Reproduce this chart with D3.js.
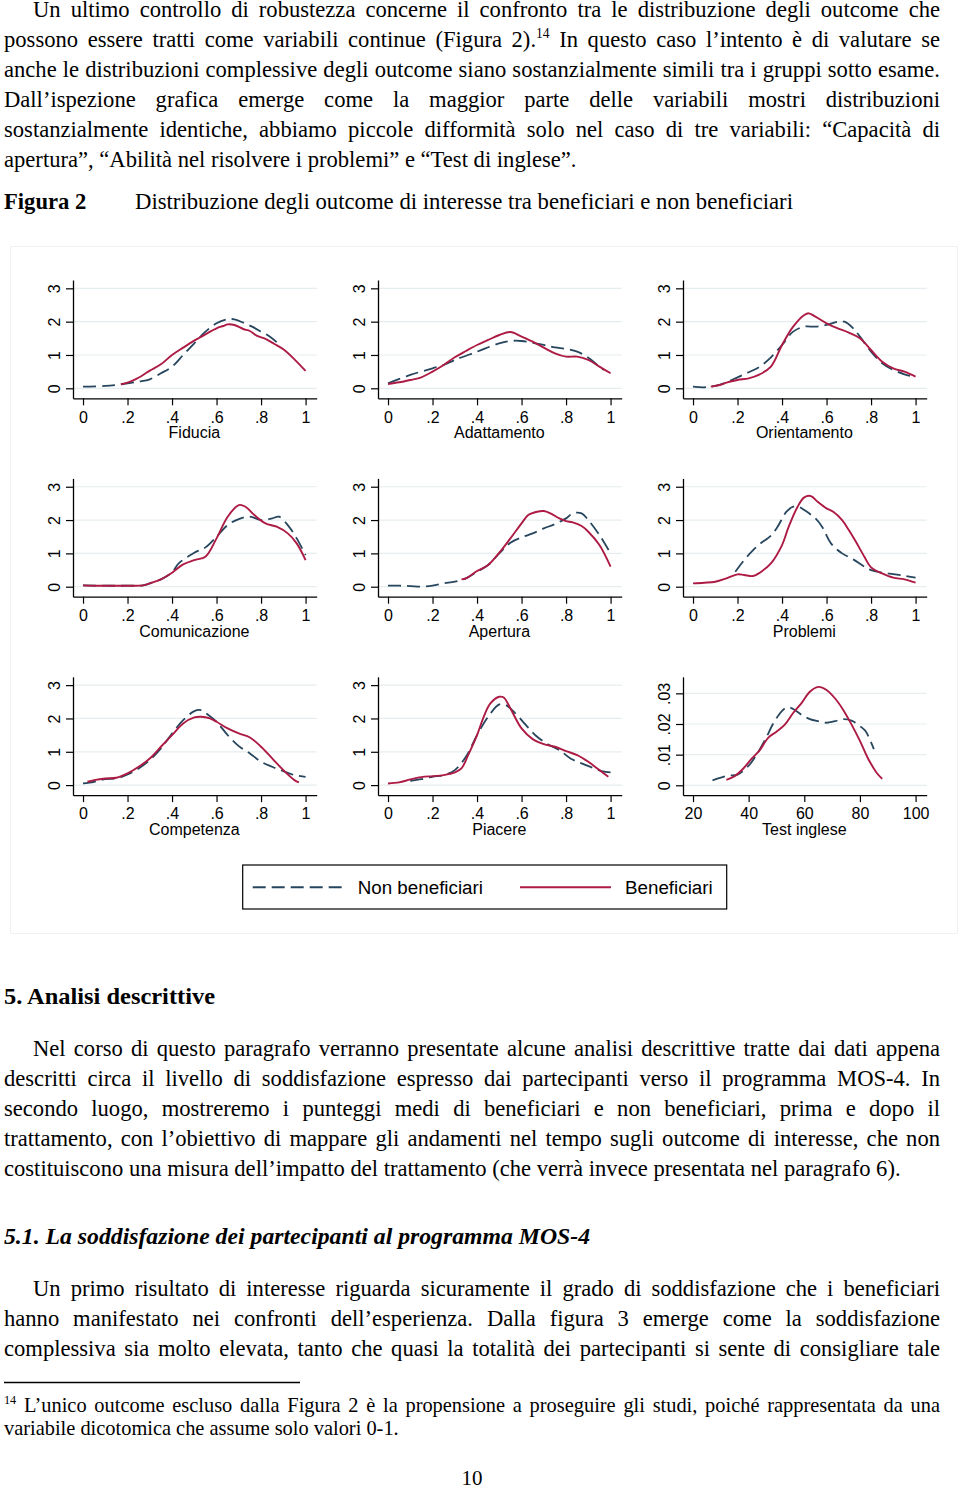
<!DOCTYPE html>
<html><head><meta charset="utf-8">
<script src="https://cdn.jsdelivr.net/npm/d3@7"></script>
<style>
html,body{margin:0;padding:0;background:#fff;}
svg{display:block;}
</style></head>
<body>
<svg id="page" width="960" height="1487"></svg>
<script>
// ---------------- DATA ----------------
const panelTitles = ["Fiducia","Adattamento","Orientamento","Comunicazione","Apertura","Problemi","Competenza","Piacere","Test inglese"];
const xTicks01 = [0,.2,.4,.6,.8,1];
const xTickLabels01 = ["0",".2",".4",".6",".8","1"];
const xTicksTest = [20,40,60,80,100];
const xTickLabelsTest = ["20","40","60","80","100"];
const yTicks = [0,1,2,3];
const yTickLabels = ["0","1","2","3"];
const yTicksTest = [0,.01,.02,.03];
const yTickLabelsTest = ["0",".01",".02",".03"];
const legendLabels = ["Non beneficiari","Beneficiari"];

// Non beneficiari (dashed) and Beneficiari (solid) densities: [x, density]
const fiduciaNon = [[0,.05],[.1,.07],[.17,.12],[.25,.2],[.3,.27],[.35,.45],[.4,.65],[.45,1.0],[.5,1.35],[.55,1.7],[.6,1.95],[.65,2.07],[.68,2.07],[.72,1.97],[.76,1.85],[.8,1.7],[.84,1.55],[.88,1.33]];
const fiduciaBen = [[.17,.12],[.2,.17],[.23,.25],[.27,.4],[.3,.53],[.35,.72],[.4,1.0],[.45,1.22],[.5,1.43],[.55,1.62],[.6,1.8],[.63,1.87],[.65,1.92],[.68,1.9],[.72,1.78],[.75,1.72],[.78,1.58],[.82,1.48],[.86,1.33],[.9,1.17],[.95,.87],[1,.52]];
const adattNon = [[0,.15],[.1,.4],[.2,.6],[.25,.7],[.3,.85],[.4,1.1],[.5,1.35],[.55,1.42],[.6,1.42],[.7,1.3],[.75,1.23],[.8,1.18],[.85,1.1],[.9,.92],[.95,.65],[.97,.55]];
const adattBen = [[0,.13],[.05,.18],[.1,.25],[.15,.33],[.2,.5],[.25,.7],[.3,.93],[.35,1.12],[.4,1.3],[.45,1.45],[.5,1.6],[.55,1.69],[.6,1.55],[.65,1.4],[.7,1.22],[.75,1.05],[.8,.95],[.85,.95],[.9,.85],[.95,.65],[1,.45]];
const orientNon = [[0,.05],[.05,.03],[.1,.07],[.15,.18],[.2,.33],[.25,.48],[.3,.65],[.35,.93],[.4,1.3],[.45,1.7],[.5,1.85],[.55,1.85],[.6,1.9],[.65,2.0],[.68,2.0],[.72,1.8],[.75,1.55],[.8,1.1],[.85,.75],[.9,.55],[.95,.42],[1,.33]];
const orientBen = [[.08,.05],[.12,.1],[.15,.17],[.2,.25],[.25,.3],[.3,.42],[.35,.65],[.4,1.3],[.45,1.85],[.5,2.2],[.52,2.25],[.55,2.15],[.6,1.95],[.65,1.8],[.7,1.67],[.75,1.5],[.8,1.15],[.85,.8],[.9,.6],[.95,.5],[1,.35]];
const comunNon = [[0,.04],[.1,.03],[.2,.03],[.27,.04],[.3,.1],[.35,.22],[.4,.43],[.43,.7],[.5,1.02],[.55,1.18],[.6,1.5],[.65,1.85],[.7,2.03],[.75,2.1],[.8,2.0],[.85,2.05],[.88,2.1],[.92,1.85],[.96,1.45],[1,.95]];
const comunBen = [[0,.04],[.05,.03],[.1,.03],[.15,.03],[.2,.03],[.27,.04],[.3,.1],[.35,.22],[.4,.42],[.45,.67],[.5,.8],[.55,.9],[.6,1.45],[.65,2.1],[.7,2.45],[.73,2.4],[.77,2.15],[.82,1.9],[.87,1.8],[.92,1.6],[.96,1.3],[1,.8]];
const apertNon = [[0,.03],[.05,.03],[.1,.02],[.15,0],[.2,.03],[.25,.1],[.3,.15],[.35,.25],[.4,.45],[.45,.65],[.5,1.0],[.55,1.32],[.6,1.48],[.65,1.6],[.7,1.75],[.75,1.88],[.8,2.05],[.83,2.2],[.87,2.2],[.9,2.0],[.95,1.55],[1,1.0]];
const apertBen = [[.33,.22],[.35,.25],[.4,.47],[.45,.65],[.5,1.02],[.55,1.45],[.6,1.9],[.63,2.15],[.67,2.25],[.7,2.27],[.73,2.2],[.77,2.05],[.8,1.97],[.83,1.93],[.87,1.82],[.9,1.65],[.95,1.25],[1,.6]];
const problNon = [[.19,.45],[.23,.8],[.27,1.1],[.3,1.28],[.35,1.53],[.38,1.8],[.42,2.25],[.45,2.4],[.48,2.38],[.5,2.3],[.55,2.05],[.58,1.8],[.62,1.3],[.67,1.0],[.72,.82],[.77,.6],[.8,.5],[.85,.42],[.9,.38],[.95,.33],[1,.27]];
const problBen = [[0,.1],[.05,.12],[.1,.15],[.15,.25],[.2,.37],[.23,.35],[.27,.32],[.3,.42],[.35,.7],[.4,1.25],[.43,1.8],[.47,2.4],[.5,2.68],[.53,2.72],[.56,2.55],[.6,2.35],[.63,2.25],[.67,2.0],[.7,1.7],[.73,1.37],[.77,.9],[.8,.58],[.85,.4],[.9,.27],[.95,.22],[1,.12]];
const compNon = [[0,.05],[.05,.1],[.1,.18],[.15,.2],[.2,.32],[.25,.5],[.3,.75],[.35,1.1],[.4,1.55],[.45,1.95],[.5,2.22],[.53,2.25],[.56,2.12],[.6,1.9],[.65,1.5],[.7,1.17],[.75,.95],[.8,.7],[.85,.55],[.9,.42],[.95,.3],[1,.25]];
const compBen = [[.02,.1],[.05,.15],[.1,.2],[.15,.22],[.2,.35],[.25,.55],[.3,.8],[.35,1.15],[.4,1.5],[.45,1.85],[.5,2.03],[.53,2.05],[.57,2.0],[.6,1.9],[.65,1.7],[.7,1.55],[.75,1.43],[.8,1.15],[.85,.8],[.9,.45],[.95,.15],[.97,.08]];
const piacNon = [[.1,.13],[.15,.18],[.2,.25],[.25,.3],[.3,.45],[.35,.85],[.4,1.5],[.45,2.05],[.5,2.42],[.53,2.4],[.57,2.17],[.62,1.8],[.67,1.45],[.72,1.22],[.77,1.05],[.82,.8],[.87,.65],[.92,.52],[.96,.42],[1,.38]];
const piacBen = [[0,.05],[.05,.08],[.1,.17],[.15,.24],[.2,.27],[.25,.3],[.3,.38],[.33,.5],[.36,.9],[.4,1.5],[.43,2.05],[.46,2.45],[.5,2.65],[.52,2.63],[.55,2.3],[.6,1.7],[.65,1.38],[.7,1.23],[.75,1.15],[.8,1.02],[.85,.9],[.9,.7],[.95,.45],[.99,.25]];
const testNon = [[27,.0016],[30,.0025],[33,.0032],[36,.0035],[40,.0064],[43,.0102],[46,.015],[49,.0204],[52,.0243],[54,.0255],[56,.0249],[59,.023],[62,.0216],[65,.0209],[68,.0204],[71,.0209],[74,.0216],[77,.0211],[80,.0193],[82,.0177],[85,.0118]];
const testBen = [[32,.0018],[35,.003],[38,.0054],[41,.0086],[44,.0115],[47,.0155],[50,.0175],[53,.0198],[56,.0236],[59,.0268],[62,.0305],[65,.0321],[68,.0311],[71,.0284],[74,.0246],[77,.0198],[80,.0145],[83,.0086],[86,.0041],[88,.0021]];

const nonSeries = [fiduciaNon, adattNon, orientNon, comunNon, apertNon, problNon, compNon, piacNon, testNon];
const benSeries = [fiduciaBen, adattBen, orientBen, comunBen, apertBen, problBen, compBen, piacBen, testBen];

// ---------------- TEXT ----------------
const para1 = [
 ["Un ultimo controllo di robustezza concerne il confronto tra le distribuzione degli outcome che", 33, true],
 ["possono essere tratti come variabili continue (Figura 2).|14| In questo caso l\u2019intento è di valutare se", 4, true],
 ["anche le distribuzioni complessive degli outcome siano sostanzialmente simili tra i gruppi sotto esame.", 4, true],
 ["Dall\u2019ispezione grafica emerge come la maggior parte delle variabili mostri distribuzioni", 4, true],
 ["sostanzialmente identiche, abbiamo piccole difformità solo nel caso di tre variabili: \u201cCapacità di", 4, true],
 ["apertura\u201d, \u201cAbilità nel risolvere i problemi\u201d e \u201cTest di inglese\u201d.", 4, false]
];
const para2 = [
 ["Nel corso di questo paragrafo verranno presentate alcune analisi descrittive tratte dai dati appena", 33, true],
 ["descritti circa il livello di soddisfazione espresso dai partecipanti verso il programma MOS-4. In", 4, true],
 ["secondo luogo, mostreremo i punteggi medi di beneficiari e non beneficiari, prima e dopo il", 4, true],
 ["trattamento, con l\u2019obiettivo di mappare gli andamenti nel tempo sugli outcome di interesse, che non", 4, true],
 ["costituiscono una misura dell\u2019impatto del trattamento (che verrà invece presentata nel paragrafo 6).", 4, false]
];
const para3 = [
 ["Un primo risultato di interesse riguarda sicuramente il grado di soddisfazione che i beneficiari", 33, true],
 ["hanno manifestato nei confronti dell\u2019esperienza. Dalla figura 3 emerge come la soddisfazione", 4, true],
 ["complessiva sia molto elevata, tanto che quasi la totalità dei partecipanti si sente di consigliare tale", 4, true]
];
const foot = [
 ["|14| L\u2019unico outcome escluso dalla Figura 2 è la propensione a proseguire gli studi, poiché rappresentata da una", 4, true],
 ["variabile dicotomica che assume solo valori 0-1.", 4, false]
];

// ---------------- DRAW ----------------
const svg = d3.select("#page");
const SERIF = "'Liberation Serif','Times New Roman',serif";
const SANS = "'Liberation Sans',Arial,sans-serif";
const RIGHT = 940;
const BODY = 22.6, FOOT = 20.4;

function drawLine(g, line, x0, y, size, justify){
  const tokens = line.split(" ");
  const nodes = [];
  tokens.forEach(tok => {
    const t = g.append("text").attr("y", y).attr("font-family", SERIF).attr("font-size", size).attr("fill","#000");
    if (tok.startsWith("|")) {
      const parts = tok.split("|");
      t.append("tspan").attr("font-size", size*0.6).attr("dy", -size*0.38).text(parts[1]);
      if (parts[2]) t.append("tspan").attr("dy", size*0.38).text(parts[2]);
    } else if (tok.indexOf("|")>=0) {
      const parts = tok.split("|");
      t.append("tspan").text(parts[0]);
      t.append("tspan").attr("font-size", size*0.6).attr("dy", -size*0.38).text(parts[1]);
    } else t.text(tok);
    nodes.push(t);
  });
  const widths = nodes.map(n => n.node().getComputedTextLength());
  const total = d3.sum(widths);
  const space = size*0.25;
  const gap = justify && nodes.length>1 ? (RIGHT - x0 - total)/(nodes.length-1) : space;
  let x = x0;
  nodes.forEach((n,i)=>{ n.attr("x", x); x += widths[i] + gap; });
}

function fitText(g, str, x0, x1, y, size, weight, style){
  const t = g.append("text").attr("x",x0).attr("y",y).attr("font-family",SERIF).attr("font-size",size)
    .attr("font-weight",weight||"normal").attr("font-style",style||"normal").text(str);
  const w = t.node().getComputedTextLength();
  if (Math.abs(w-(x1-x0))>2) t.attr("textLength", x1-x0).attr("lengthAdjust","spacingAndGlyphs");
  return t;
}

const txt = svg.append("g");
para1.forEach((l,i)=> drawLine(txt, l[0], l[1], 17 + 30*i, BODY, l[2]));
fitText(txt, "Figura 2", 4, 86, 209, BODY, "bold");
fitText(txt, "Distribuzione degli outcome di interesse tra beneficiari e non beneficiari", 135, 793, 209, BODY);
fitText(txt, "5. Analisi descrittive", 4, 215, 1004, 23.5, "bold");
para2.forEach((l,i)=> drawLine(txt, l[0], l[1], 1056 + 30*i, BODY, l[2]));
fitText(txt, "5.1. La soddisfazione dei partecipanti al programma MOS-4", 4, 590, 1244, 23.5, "bold", "italic");
para3.forEach((l,i)=> drawLine(txt, l[0], l[1], 1296 + 30*i, BODY, l[2]));
txt.append("line").attr("x1",4).attr("x2",300).attr("y1",1382.5).attr("y2",1382.5).attr("stroke","#000").attr("stroke-width",1.3);
foot.forEach((l,i)=> drawLine(txt, l[0], l[1], 1412 + 23*i, FOOT, l[2]));
txt.append("text").attr("x",472).attr("y",1485).attr("text-anchor","middle").attr("font-family",SERIF).attr("font-size",21).text("10");

// figure region
svg.append("rect").attr("x",10.5).attr("y",246.5).attr("width",947).attr("height",687).attr("fill","#fff").attr("stroke","#eef2f5").attr("stroke-width",1);

const NAVY = "#27465e", RED = "#ad1a43", GRID = "#e6edf0";
const colW = 305, rowH = 198.4;

panelTitles.forEach((title, p) => {
  const c = p % 3, r = Math.floor(p/3);
  const isTest = p === 8;
  const dx = c*colW, dy = r*rowH;
  const x = d3.scaleLinear().domain(isTest ? [16.4,104] : [-0.045,1.05]).range([73+dx, 316.7+dx]);
  const y = d3.scaleLinear().domain(isTest ? [-0.0032,0.0354] : [-0.3,3.25]).range([398.3+dy, 280+dy]);
  const g = svg.append("g");
  const yt = isTest ? yTicksTest : yTicks;
  const ytl = isTest ? yTickLabelsTest : yTickLabels;
  const xt = isTest ? xTicksTest : xTicks01;
  const xtl = isTest ? xTickLabelsTest : xTickLabels01;

  g.selectAll(".grid").data(yt).enter().append("line")
   .attr("x1", x.range()[0]).attr("x2", x.range()[1])
   .attr("y1", d=>y(d)).attr("y2", d=>y(d))
   .attr("stroke", GRID).attr("stroke-width", 1.2);

  const ya = g.append("g").attr("transform", `translate(${x.range()[0]},0)`)
    .call(d3.axisLeft(y).tickValues(yt).tickFormat((d,i)=>ytl[i]).tickSize(7).tickSizeOuter(0));
  ya.select(".domain").attr("stroke","#000").attr("stroke-width",1.3);
  ya.selectAll(".tick line").attr("stroke","#000").attr("stroke-width",1.2);
  ya.selectAll(".tick text").attr("transform","rotate(-90)").attr("x",0).attr("y",-13).attr("dy",null)
    .attr("text-anchor","middle").attr("font-family",SANS).attr("font-size",16).attr("fill","#000");

  const xa = g.append("g").attr("transform", `translate(0,${y.range()[0]})`)
    .call(d3.axisBottom(x).tickValues(xt).tickFormat((d,i)=>xtl[i]).tickSize(7).tickSizeOuter(0));
  xa.select(".domain").attr("stroke","#000").attr("stroke-width",1.3);
  xa.selectAll(".tick line").attr("stroke","#000").attr("stroke-width",1.2);
  xa.selectAll(".tick text").attr("y",24.4).attr("dy",null)
    .attr("font-family",SANS).attr("font-size",16).attr("fill","#000");

  g.append("text").attr("x",(x.range()[0]+x.range()[1])/2 - 0.5).attr("y",y.range()[0]+40)
   .attr("text-anchor","middle").attr("font-family",SANS).attr("font-size",16).text(title);

  const line = d3.line().x(d=>x(d[0])).y(d=>y(d[1])).curve(d3.curveCatmullRom.alpha(0.5));
  g.append("path").datum(nonSeries[p]).attr("d",line).attr("fill","none")
   .attr("stroke",NAVY).attr("stroke-width",1.8).attr("stroke-dasharray","13,6");
  g.append("path").datum(benSeries[p]).attr("d",line).attr("fill","none")
   .attr("stroke",RED).attr("stroke-width",1.9);
});

// legend
const lg = svg.append("g");
lg.append("rect").attr("x",242.7).attr("y",865).attr("width",484).attr("height",44)
  .attr("fill","#fff").attr("stroke","#000").attr("stroke-width",1.2);
lg.append("line").attr("x1",252.7).attr("x2",343.3).attr("y1",887.3).attr("y2",887.3)
  .attr("stroke",NAVY).attr("stroke-width",2).attr("stroke-dasharray","13,6");
lg.append("text").attr("x",357.7).attr("y",894).attr("font-family",SANS).attr("font-size",18.8).text(legendLabels[0]);
lg.append("line").attr("x1",520).attr("x2",611).attr("y1",887.3).attr("y2",887.3)
  .attr("stroke",RED).attr("stroke-width",2);
lg.append("text").attr("x",625).attr("y",894).attr("font-family",SANS).attr("font-size",18.8).text(legendLabels[1]);
</script>
</body></html>
